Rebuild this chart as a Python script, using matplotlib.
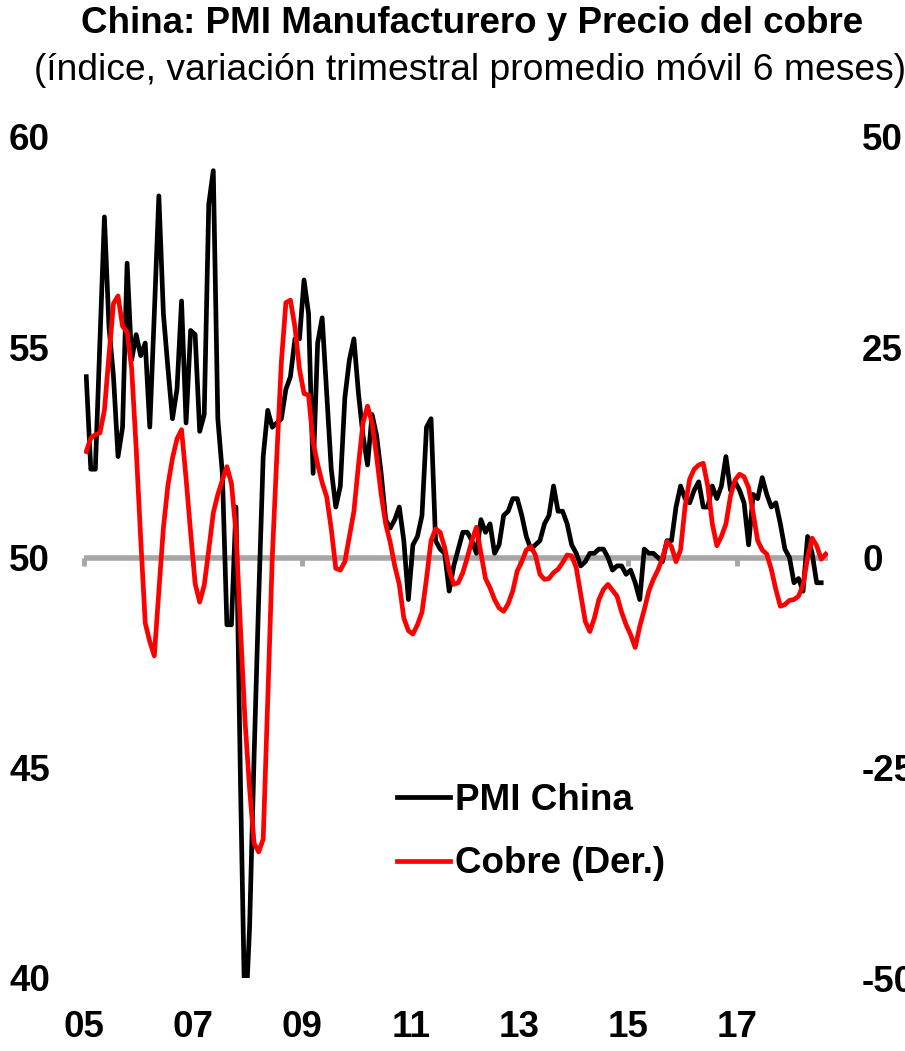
import numpy as np
import matplotlib.pyplot as plt

plt.rcParams['font.family'] = ['Liberation Sans', 'DejaVu Sans']
plt.rcParams['font.weight'] = 'bold'

# Monthly series, Dec-2005 .. Jun-2019 (PMI) and Jul-2019 (copper)
pmi = [
    54.3,
    52.1, 52.1, 55.1, 58.1, 55.5, 54.3, 52.4, 53.1, 57.0, 54.7, 55.3, 54.8,
    55.1, 53.1, 55.8, 58.6, 55.8, 54.5, 53.3, 54.0, 56.1, 53.2, 55.4, 55.3,
    53.0, 53.4, 58.4, 59.2, 53.3, 52.0, 48.4, 48.4, 51.2, 44.6, 38.8, 41.2,
    45.3, 49.0, 52.4, 53.5, 53.1, 53.2, 53.3, 54.0, 54.3, 55.2, 55.2, 56.6,
    55.8, 52.0, 55.1, 55.7, 53.9, 52.1, 51.2, 51.7, 53.8, 54.7, 55.2, 53.9,
    52.9, 52.2, 53.4, 52.9, 52.0, 50.9, 50.7, 50.9, 51.2, 50.4, 49.0, 50.3,
    50.5, 51.0, 53.1, 53.3, 50.4, 50.2, 50.1, 49.2, 49.8, 50.2, 50.6, 50.6,
    50.4, 50.1, 50.9, 50.6, 50.8, 50.1, 50.3, 51.0, 51.1, 51.4, 51.4, 51.0,
    50.5, 50.2, 50.3, 50.4, 50.8, 51.0, 51.7, 51.1, 51.1, 50.8, 50.3, 50.1,
    49.8, 49.9, 50.1, 50.1, 50.2, 50.2, 50.0, 49.7, 49.8, 49.8, 49.6, 49.7,
    49.4, 49.0, 50.2, 50.1, 50.1, 50.0, 49.9, 50.4, 50.4, 51.2, 51.7, 51.4,
    51.3, 51.6, 51.8, 51.2, 51.2, 51.7, 51.4, 51.7, 52.4, 51.6, 51.8, 51.6,
    51.3, 50.3, 51.5, 51.4, 51.9, 51.5, 51.2, 51.3, 50.8, 50.2, 50.0, 49.4,
    49.5, 49.2, 50.5, 50.1, 49.4, 49.4,
]

cobre = [
    12.6,
    14.2, 14.6, 14.8, 17.5, 24.0, 30.2, 31.1, 27.5, 26.8, 22.5, 13.0, 2.2,
    -7.8, -10.0, -11.7, -4.0, 3.5, 8.6, 11.8, 14.1, 15.2, 9.4, 3.0, -3.1,
    -5.3, -3.3, 0.9, 5.3, 7.5, 9.2, 10.8, 8.8, 3.0, -8.5, -19.5, -27.5,
    -34.0, -35.0, -33.5, -17.0, 0.0, 12.0, 23.2, 30.3, 30.6, 27.4, 22.4, 19.5,
    19.3, 13.7, 11.1, 8.9, 7.2, 3.4, -1.3, -1.5, -0.5, 2.5, 5.5, 11.0,
    16.0, 18.0, 16.0, 12.0, 7.5, 4.0, 1.8, -1.0, -3.2, -7.2, -8.7, -9.1,
    -8.0, -6.5, -2.5, 2.0, 3.4, 3.0, 1.2, -1.5, -3.2, -3.0, -1.8, 0.0,
    2.0, 3.6, 0.5, -2.5, -3.6, -5.0, -6.0, -6.4, -5.5, -4.0, -1.6, -0.5,
    0.9, 1.3, 0.3, -2.0, -2.6, -2.5, -1.8, -1.4, -0.6, 0.3, 0.2, -1.2,
    -4.4, -7.6, -8.8, -7.2, -5.0, -3.8, -3.2, -3.9, -4.6, -6.5, -8.0, -9.2,
    -10.7, -8.2, -6.2, -4.0, -2.6, -1.5, -0.1, 1.9, 1.3, -0.5, 0.9, 6.1,
    9.3, 10.5, 11.0, 11.2, 8.5, 4.0, 1.4, 2.5, 4.0, 7.3, 9.2, 9.9,
    9.6, 8.3, 5.3, 2.0, 0.9, 0.4, -1.4, -3.8, -5.8, -5.6, -5.1, -5.0,
    -4.6, -3.3, 0.0, 2.3, 1.4, -0.2, 0.4,
]

year_labels = ['05', '07', '09', '11', '13', '15', '17']
left_ticks = [40, 45, 50, 55, 60]
right_ticks = [-50, -25, 0, 25, 50]

W, H = 905, 1051
FS = 26.5
GREY = '#A6A6A6'

fig = plt.figure(figsize=(W / 100, H / 100), dpi=100)
ax = fig.add_axes([84 / W, 1 - 978 / H, (828 - 84) / W, (978 - 137) / H])
ax2 = ax.twinx()

n_cat = len(cobre)
ax.set_xlim(-0.5, n_cat - 0.5)

# horizontal axis crossing at 50, with a tick every two years
tick_pos = np.arange(len(year_labels)) * 24 - 0.5
ax.axhline(50, color=GREY, lw=4, zorder=1)
ax.vlines(tick_pos, 50 - 0.2, 50, color=GREY, lw=3.5, zorder=1, clip_on=False)

l1, = ax.plot(np.arange(len(pmi)), pmi, color='black', lw=3.4,
              zorder=3, label='PMI China')
l2, = ax2.plot(np.arange(len(cobre)), cobre, color='red', lw=3.4,
               zorder=3, label='Cobre (Der.)')

ax.set_ylim(40, 60)
ax.set_yticks(left_ticks, [str(v) for v in left_ticks])
ax2.set_ylim(-50, 50)
ax2.set_yticks(right_ticks, [str(v) for v in right_ticks])
ax.set_xticks(tick_pos, year_labels)

ax.tick_params(axis='y', length=0, pad=24.5, labelsize=FS)
ax.tick_params(axis='x', length=0, pad=23, labelsize=FS)
ax2.tick_params(axis='y', length=0, pad=24.5, labelsize=FS)

for a in (ax, ax2):
    for s in a.spines.values():
        s.set_visible(False)

ax2.legend([l1, l2], ['PMI China', 'Cobre (Der.)'], loc='upper left',
           bbox_to_anchor=(0.4207, 0.2317), frameon=False,
           prop={'weight': 'bold', 'size': FS}, handlelength=1.45,
           handletextpad=0.12, borderpad=0, borderaxespad=0, labelspacing=0.77)

fig.text(472 / W, 1 - 33 / H, 'China: PMI Manufacturero y Precio del cobre',
         ha='center', va='baseline', fontsize=FS, weight='bold')
fig.text(470 / W, 1 - 80 / H, '(índice, variación trimestral promedio móvil 6 meses)',
         ha='center', va='baseline', fontsize=FS + 0.3, weight='normal')

fig.savefig('out.png', dpi=100)
